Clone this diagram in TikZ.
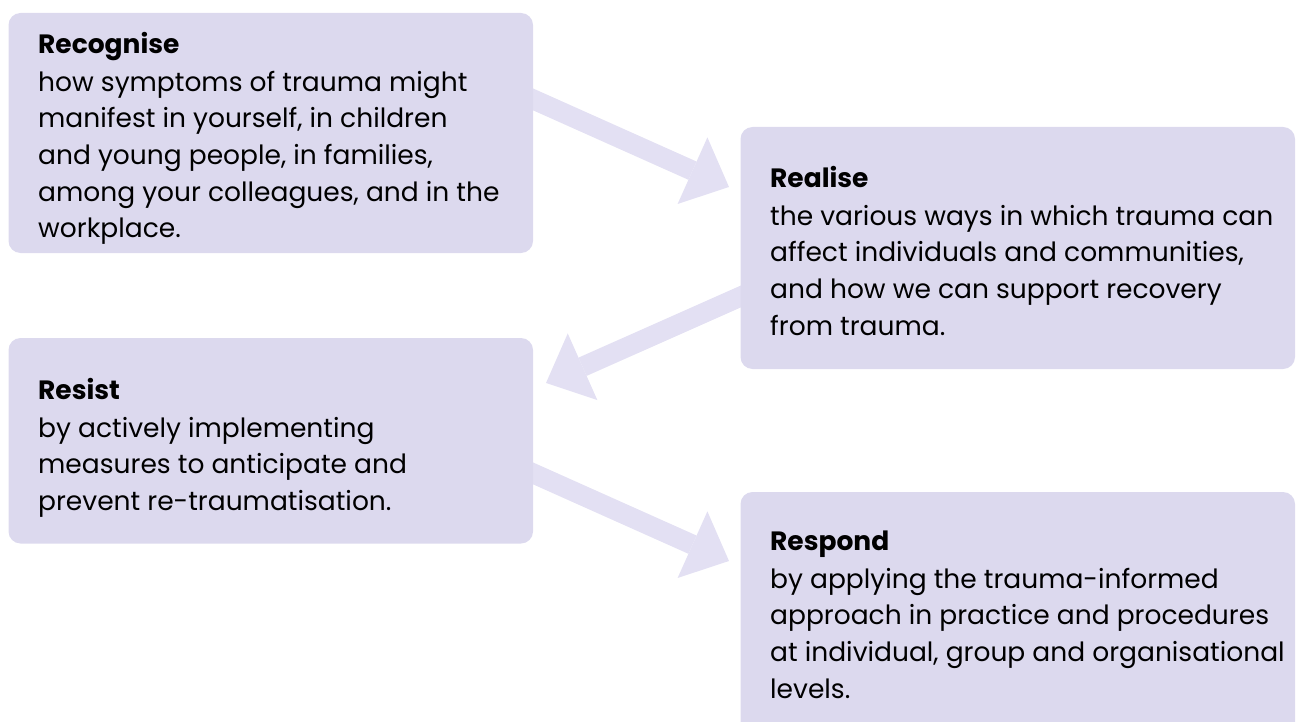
\documentclass[tikz,border=0pt]{standalone}
\usepackage{fontspec}
\setmainfont{Poppins}
\usetikzlibrary{arrows.meta}
\definecolor{boxfill}{HTML}{DCD9EE}
\definecolor{arrowfill}{HTML}{E3E0F3}
\tikzset{
  card/.style={fill=boxfill, draw=none, rounded corners=12pt},
  cardtext/.style={anchor=north west, inner sep=0pt, align=left, text=black,
    font=\fontsize{26.5}{36.6}\selectfont},
  flowarrow/.style={draw=arrowfill, line width=20pt,
    -{Triangle[length=40pt,width=73pt,line width=0pt,fill=arrowfill]}}
}
\newcommand{\cardhead}[1]{\rule{0pt}{25pt}\textbf{#1}\\[1.4pt]}
\begin{document}
\begin{tikzpicture}[x=1pt,y=-1pt]
\useasboundingbox (0,0) rectangle (1300,722);
% arrows (behind boxes)
\coordinate (a1s) at (500,84.6);
\coordinate (a1e) at (729,187);
\coordinate (a2s) at (770,283.5);
\coordinate (a2e) at (546,383);
\coordinate (a3s) at (500,458.6);
\coordinate (a3e) at (729,561);
\draw[flowarrow] (a1s) -- (a1e);
\draw[flowarrow] (a2s) -- (a2e);
\draw[flowarrow] (a3s) -- (a3e);
% boxes
\path[card] (8.5,13) rectangle (533,253) coordinate (b1);
\path[card] (740.5,127) rectangle (1295,369) coordinate (b2);
\path[card] (8.5,338) rectangle (533,543.5) coordinate (b3);
\path[card] (740.5,492) rectangle (1295,735) coordinate (b4);
% texts (top = first baseline - 25)
\node[cardtext] (t1) at (38,28) {\cardhead{Recognise}how symptoms of trauma might\\manifest in yourself, in children\\and young people, in families,\\among your colleagues, and in the\\workplace.};
\node[cardtext] (t2) at (770,162) {\cardhead{Realise}the various ways in which trauma can\\affect individuals and communities,\\and how we can support recovery\\from trauma.};
\node[cardtext] (t3) at (38,374) {\cardhead{Resist}by actively implementing\\measures to anticipate and\\prevent re-traumatisation.};
\node[cardtext] (t4) at (770,525) {\cardhead{Respond}by applying the trauma-informed\\approach in practice and procedures\\at individual, group and organisational\\levels.};
\end{tikzpicture}
\end{document}
